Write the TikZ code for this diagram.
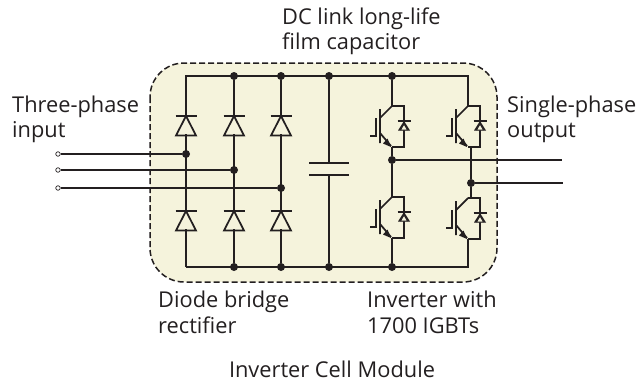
\documentclass[tikz,border=0pt]{standalone}
\usepackage{fontspec}
\setmainfont{Open Sans}
\usetikzlibrary{arrows.meta}
\definecolor{cellfill}{HTML}{F5F3DC}
\definecolor{ink}{HTML}{231F20}
\tikzset{
  wire/.style={draw=ink,line width=1.75pt},
  dot/.style={circle,fill=ink,inner sep=0pt,minimum size=8pt},
  opn/.style={circle,draw=ink,fill=white,line width=.7pt,inner sep=0pt,minimum size=4.5pt},
  lbl/.style={anchor=base west,inner sep=0pt,font=\fontsize{21.8}{24}\selectfont,text=ink},
  pics/rectdiode/.style={code={
    \draw[wire] (-10.5,0) -- (10.5,0);
    \draw[wire] (0,0) -- (-10,19.5) -- (10,19.5) -- cycle;
  }},
  pics/igbt/.style={code={
    \draw[wire] (0,0) -- (-12,12) (-12,3) -- (-12,37) (-12,27) -- (-1,40);
    \draw[wire] (-16,12) -- (-16,30) -- (-22,30);
    \fill[ink] (-1,41) -- (-9,37.5) -- (-4.5,32.5) -- cycle;
    \draw[wire] (0,0) -- (12,0) -- (12,41) -- (0,41);
    \fill[ink] (12,15) -- (6,24.5) -- (18,24.5) -- cycle;
    \draw[wire] (5.5,15) -- (18.5,15);
    \draw[draw=ink,line width=.9pt,fill=cellfill] (12,18) -- (8.5,24) -- (15.5,24) -- cycle;
  }}
}
\begin{document}
\begin{tikzpicture}[x=1pt,y=-1pt]
\useasboundingbox (0,0) rectangle (644,383);
\draw[draw=ink,fill=cellfill,line width=1.5pt,dash pattern=on 6pt off 3pt,rounded corners=34pt] (150,63) rectangle (497,282);

% rail junctions
\node[dot] (t2) at (234,76) {};
\node[dot] (t3) at (281,76) {};
\node[dot] (t4) at (329,76) {};
\node[dot] (t5) at (392,76) {};
\coordinate (t1) at (186,76);
\coordinate (t6) at (468,76);
\node[dot] (b2) at (234,267) {};
\node[dot] (b3) at (281,267) {};
\node[dot] (b4) at (329,267) {};
\node[dot] (b5) at (392,267) {};
\coordinate (b1) at (186,267);
\coordinate (b6) at (468,267);
\draw[wire] (b1) -- (t1) -- (t6) -- (468,106);
\draw[wire] (b1) -- (b6) -- (468,239);
\draw[wire] (t2) -- (b2);
\draw[wire] (t3) -- (b3);

% capacitor
\coordinate (c1) at (329,163);
\coordinate (c2) at (329,175);
\draw[wire] (t4) -- (c1);
\draw[wire] (b4) -- (c2);
\draw[wire] (309,163) -- (349,163);
\draw[wire] (309,175) -- (349,175);

% inputs
\node[dot] (m1) at (186,154) {};
\node[dot] (m2) at (234,170) {};
\node[dot] (m3) at (281,188) {};
\node[opn] (i1) at (58,154) {};
\node[opn] (i2) at (58,170) {};
\node[opn] (i3) at (58,188) {};
\draw[wire] (i1) -- (m1);
\draw[wire] (i2) -- (m2);
\draw[wire] (i3) -- (m3);

% diodes
\foreach \x in {186,234,281}{
  \fill[cellfill] (\x-8,117) -- (\x+8,117) -- (\x+8,134) -- (\x-8,134) -- cycle;
  \pic at (\x,116) {rectdiode};
  \fill[cellfill] (\x-8,212) -- (\x+8,212) -- (\x+8,229) -- (\x-8,229) -- cycle;
  \pic at (\x,211) {rectdiode};
}

% IGBTs
\pic at (392,106) {igbt};
\pic at (392,197) {igbt};
\pic at (468,106) {igbt};
\pic at (468,198) {igbt};

% output nodes and legs
\node[dot] (o1) at (392,160) {};
\node[dot] (o2) at (471,183) {};
\coordinate (e1) at (392,147);
\coordinate (c3) at (392,197);
\coordinate (e3) at (392,238);
\coordinate (e2) at (471,147);
\coordinate (c4) at (471,198);
\coordinate (out1) at (562,160);
\coordinate (out2) at (563,183);
\draw[wire] (t5) -- (392,106);
\draw[wire] (e1) -- (o1) -- (c3);
\draw[wire] (e3) -- (b5);
\draw[wire] (e2) -- (o2) -- (c4);
\draw[wire] (o1) -- (out1);
\draw[wire] (o2) -- (out2);

% labels
\node[lbl] (l1) at (282,24) {DC link long-life};
\node[lbl] (l2) at (282,49) {film capacitor};
\node[lbl] (l3) at (12,112) {Three-phase};
\node[lbl] (l4) at (12,137) {input};
\node[lbl] (l5) at (507,112) {Single-phase};
\node[lbl] (l6) at (507,137) {output};
\node[lbl] (l7) at (158,307) {Diode bridge};
\node[lbl] (l8) at (158,333) {rectifier};
\node[lbl] (l9) at (367,307) {Inverter with};
\node[lbl] (l10) at (367,333) {1700 IGBTs};
\node[lbl,anchor=base] (l11) at (332,377) {Inverter Cell Module};
\end{tikzpicture}
\end{document}
